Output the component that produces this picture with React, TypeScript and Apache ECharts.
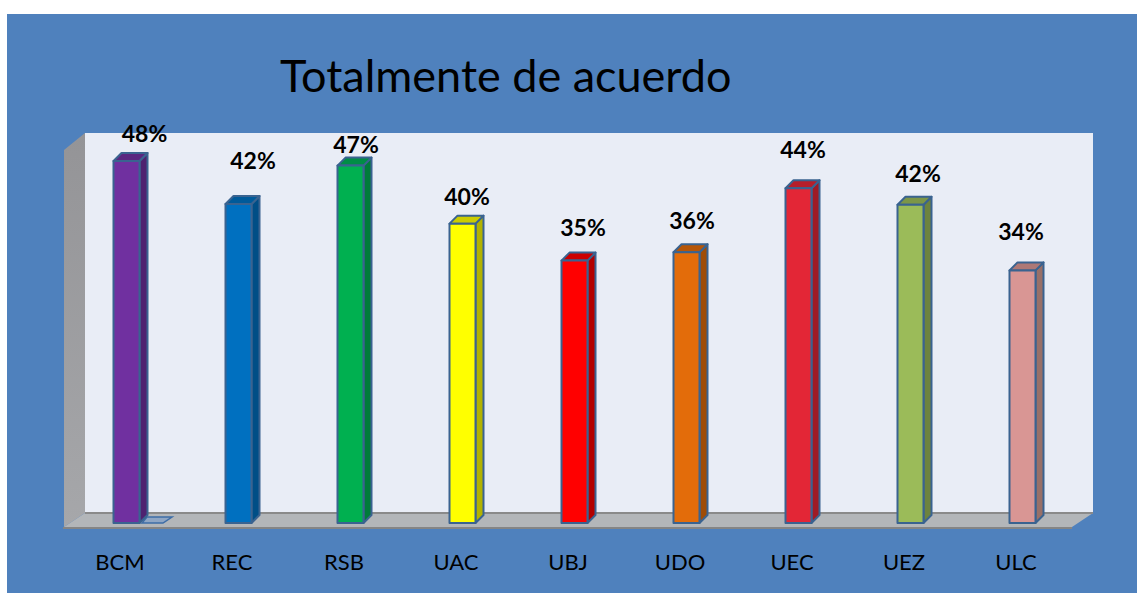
import React, { useEffect, useRef } from "react";
import * as echarts from "echarts";

const categories = ["BCM", "REC", "RSB", "UAC", "UBJ", "UDO", "UEC", "UEZ", "ULC"];
const values = [48, 42.3, 47.4, 39.7, 34.8, 35.9, 44.4, 42.2, 33.5];
const valueLabels = ["48%", "42%", "47%", "40%", "35%", "36%", "44%", "42%", "34%"];
const barColors = ["#7030A0", "#0070C0", "#00B050", "#FFFF00", "#FF0000", "#E36C0A", "#E32636", "#9BBB59", "#D99694"];
const sideColors = ["#4E2270", "#004E86", "#007B3A", "#B3B300", "#B30000", "#9F4C07", "#9F1B26", "#6D833E", "#987068"];
const topColors = ["#5A2780", "#005A9A", "#008D46", "#CCCC00", "#CC0000", "#B65608", "#B61E2B", "#7C9647", "#AE7876"];

const LABEL_LIFT = [28, 44.5, 22, 28, 34, 32, 39, 31.5, 39];
const LABEL_SHIFT = [24.5, 21, 12, 11, 15, 12, 11, 14, 5];
const EDGE = "#3A6390";
const FONT = "Lato, Carlito, 'Open Sans', sans-serif";

export default function App() {
  const ref = useRef<HTMLDivElement>(null);

  useEffect(() => {
    document.body.style.margin = "0";
    document.body.style.background = "#fff";
    const chart = echarts.init(ref.current!, null, { renderer: "svg" });
    chart.setOption({
      animation: false,
      backgroundColor: "#ffffff",
      title: {
        text: "Totalmente de acuerdo",
        left: 275,
        top: 47,
        textStyle: { color: "#000", fontFamily: FONT, fontWeight: "normal", fontSize: 45 },
      },
      grid: { left: 64, right: 65, top: 146, bottom: 70 },
      xAxis: {
        type: "category",
        data: categories,
        axisLine: { show: false },
        axisTick: { show: false },
        axisLabel: { color: "#000", fontFamily: FONT, fontSize: 22, margin: 27 },
      },
      yAxis: { type: "value", min: 0, max: 50, show: false },
      graphic: [
        { type: "rect", z: -10, shape: { x: 7, y: 14, width: 1130, height: 579 }, style: { fill: "#4F81BD" } },
        { type: "rect", z: -9, shape: { x: 85, y: 133, width: 1008, height: 380 }, style: { fill: "#E9EDF6" } },
        {
          type: "polygon", z: -9,
          shape: { points: [[64, 150], [85, 133], [85, 513], [64, 527]] },
          style: { fill: new echarts.graphic.LinearGradient(0, 0, 0, 1, [{ offset: 0, color: "#949497" }, { offset: 1, color: "#A6A7AA" }]) },
        },
        {
          type: "polygon", z: -9,
          shape: { points: [[64, 527], [85, 513], [1093, 513], [1072, 527]] },
          style: { fill: "#B3B6B9" },
        },
        { type: "line", z: -8, shape: { x1: 85, y1: 513, x2: 1093, y2: 513 }, style: { stroke: "#8A8A8A", lineWidth: 2 } },
        { type: "line", z: -8, shape: { x1: 63, y1: 528, x2: 1072, y2: 528 }, style: { stroke: "#858585", lineWidth: 2 } },
        { type: "polygon", z: -8, shape: { points: [[142, 523], [163, 523], [172, 517], [147, 517]] }, style: { fill: "#8FA6C4", stroke: "#3E6DA6", lineWidth: 1.5 } },
      ],
      series: [
        {
          type: "custom",
          data: values.map((v, i) => [i, v]),
          renderItem: (_params: any, api: any) => {
            const i = api.value(0);
            const [cx, top] = api.coord([i, api.value(1)]);
            const [, base] = api.coord([i, 0]);
            const x0 = cx - 6.5;
            const x1 = cx + 19.5;
            const d = 8;
            const line = { stroke: EDGE, lineWidth: 2, lineJoin: "round" };
            return {
              type: "group",
              children: [
                { type: "polygon", shape: { points: [[x1, top], [x1 + d, top - d], [x1 + d, base - d], [x1, base]] }, style: { fill: sideColors[i], ...line } },
                { type: "polygon", shape: { points: [[x0, top], [x0 + d, top - d], [x1 + d, top - d], [x1, top]] }, style: { fill: topColors[i], ...line } },
                { type: "rect", shape: { x: x0, y: top, width: x1 - x0, height: base - top }, style: { fill: barColors[i], ...line } },
                {
                  type: "text",
                  style: {
                    text: valueLabels[i],
                    x: cx + LABEL_SHIFT[i],
                    y: top - LABEL_LIFT[i],
                    align: "center",
                    verticalAlign: "middle",
                    fill: "#000",
                    font: `bold 23px ${FONT}`,
                  },
                },
              ],
            };
          },
        },
      ],
    });
    return () => chart.dispose();
  }, []);

  return <div ref={ref} style={{ position: "fixed", left: 0, top: 0, width: 1137, height: 593 }} />;
}
